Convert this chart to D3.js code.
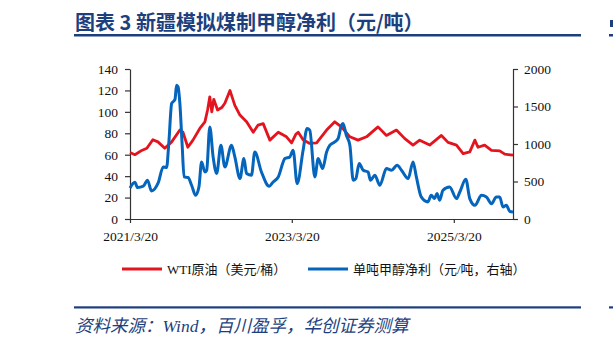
<!DOCTYPE html>
<html>
<head>
<meta charset="utf-8">
<script src="https://cdn.jsdelivr.net/npm/d3@7"></script>
<style>
  html, body { margin: 0; padding: 0; background: #ffffff; }
  svg { display: block; }
</style>
</head>
<body>
<svg id="chart" width="613" height="346"></svg>
<script>
// ---------------- DATA ----------------
const titleText = "图表 3 新疆模拟煤制甲醇净利（元/吨）";
const sourceText = "资料来源：Wind，百川盈孚，华创证券测算";
const seriesNames = ["WTI原油（美元/桶）", "单吨甲醇净利（元/吨，右轴）"];
const xTickLabels = ["2021/3/20", "2023/3/20", "2025/3/20"];
const leftTicks = [0, 20, 40, 60, 80, 100, 120, 140];
const rightTicks = [0, 500, 1000, 1500, 2000];
const xDomain = ["2021-03-20", "2025-12-12"];

const wtiDates = ["2021-03-20","2021-04-11","2021-05-12","2021-06-04","2021-07-01","2021-07-24","2021-08-24","2021-09-24","2021-10-31","2021-11-14","2021-12-06","2021-12-29","2022-01-29","2022-02-21","2022-03-05","2022-03-15","2022-03-24","2022-04-02","2022-04-19","2022-05-08","2022-05-22","2022-06-14","2022-07-06","2022-07-29","2022-08-28","2022-09-27","2022-10-19","2022-11-11","2022-12-11","2023-01-18","2023-02-24","2023-03-19","2023-04-07","2023-04-18","2023-05-10","2023-06-09","2023-07-10","2023-08-24","2023-09-30","2023-10-30","2023-12-07","2024-01-13","2024-02-20","2024-04-12","2024-05-20","2024-07-04","2024-08-11","2024-09-17","2024-10-17","2024-12-01","2025-01-23","2025-02-22","2025-04-01","2025-05-01","2025-05-31","2025-06-23","2025-07-07","2025-08-06","2025-09-06","2025-10-13","2025-11-05","2025-12-12"];
const wtiValues = [62,60,64,66,74,72,66,72,83,81,67,73.6,84.5,90.7,101.7,114,100,111.7,101.7,104,108,120,106,97,90.7,81,87.7,89,73.6,81,76.7,71,79,81,74,70.5,71,83,90.7,86,76.7,73.6,76.7,86,78,83,75,69,73.6,69,78,71.5,69,61,62.7,73.6,67,69,64,63.6,60.5,59.6];

const profitDates = ["2021-03-20","2021-04-11","2021-04-23","2021-05-19","2021-06-07","2021-06-25","2021-07-25","2021-08-17","2021-09-01","2021-09-11","2021-09-24","2021-10-09","2021-10-16","2021-10-23","2021-10-31","2021-11-10","2021-11-19","2021-12-07","2021-12-23","2022-01-10","2022-01-25","2022-02-06","2022-02-21","2022-03-01","2022-03-15","2022-03-30","2022-04-15","2022-05-04","2022-05-22","2022-06-21","2022-07-06","2022-07-29","2022-08-16","2022-08-28","2022-09-19","2022-10-04","2022-11-03","2022-12-08","2022-12-26","2023-01-18","2023-02-17","2023-03-11","2023-03-26","2023-04-13","2023-05-10","2023-05-28","2023-06-09","2023-07-02","2023-07-17","2023-08-06","2023-08-24","2023-09-08","2023-09-30","2023-10-15","2023-10-30","2023-11-06","2023-11-21","2023-12-07","2023-12-22","2024-01-03","2024-01-18","2024-02-05","2024-02-27","2024-03-09","2024-03-29","2024-04-20","2024-05-20","2024-06-12","2024-07-07","2024-07-27","2024-08-26","2024-09-17","2024-10-02","2024-10-24","2024-11-23","2024-12-08","2024-12-23","2025-01-03","2025-01-15","2025-01-30","2025-03-01","2025-04-01","2025-04-16","2025-05-13","2025-05-31","2025-06-23","2025-07-23","2025-08-14","2025-09-06","2025-09-28","2025-10-13","2025-10-28","2025-11-12","2025-11-27","2025-12-12"];
const profitValues = [414,490,419,437,517,374,481,694,686,1007,1541,1594,1785,1762,1541,1007,561,553,450,316,427,761,627,650,1228,828,606,984,694,984,828,539,806,606,583,894,627,437,494,561,806,828,917,472,917,1207,1184,561,806,673,894,984,1028,1073,1251,1274,1117,984,517,539,740,650,627,517,583,450,673,650,717,650,539,761,561,294,227,316,272,339,250,383,427,272,360,530,272,183,316,294,205,294,294,160,183,103,93];

// ---------------- CHART ----------------
const svg = d3.select("#chart");
const parse = d3.timeParse("%Y-%m-%d");
const navy = "#1e3f7e";
const red = "#e3141e";
const blue = "#0564bc";
const cjk = "'Noto Sans CJK SC', sans-serif";
const mixed = "'Liberation Serif', 'Noto Sans CJK SC', serif";

const plot = { left: 130, right: 513, top: 69, bottom: 219 };

const x = d3.scaleTime().domain(xDomain.map(parse)).range([plot.left, plot.right]);
const yL = d3.scaleLinear().domain([0, 140]).range([plot.bottom, plot.top]);
const yR = d3.scaleLinear().domain([0, 2000]).range([plot.bottom, plot.top]);

// Title
svg.append("text").attr("x", 75).attr("y", 30)
  .attr("font-family", cjk).attr("font-weight", 700).attr("font-size", 20)
  .attr("fill", navy).text(titleText);
svg.append("rect").attr("x", 74).attr("y", 34).attr("width", 507).attr("height", 2.5).attr("fill", navy);
svg.append("rect").attr("x", 609).attr("y", 34).attr("width", 4).attr("height", 2.5).attr("fill", navy);
svg.append("rect").attr("x", 610).attr("y", 20).attr("width", 3).attr("height", 7).attr("fill", navy);

// Bottom rule and source
svg.append("rect").attr("x", 74).attr("y", 306.3).attr("width", 507).attr("height", 2.2).attr("fill", navy);
svg.append("rect").attr("x", 609).attr("y", 306.3).attr("width", 4).attr("height", 2.2).attr("fill", navy);
svg.append("text").attr("x", 75).attr("y", 332)
  .attr("font-family", mixed).attr("font-style", "italic").attr("font-size", 17.5)
  .attr("fill", navy).text(sourceText);

// Axes
const axisColor = "#333";
const gL = svg.append("g").attr("transform", `translate(${plot.left},0)`)
  .call(d3.axisLeft(yL).tickValues(leftTicks).tickSize(5).tickPadding(7).tickSizeOuter(0));
const gR = svg.append("g").attr("transform", `translate(${plot.right},0)`)
  .call(d3.axisRight(yR).tickValues(rightTicks).tickFormat(d3.format("d")).tickSize(5).tickPadding(6).tickSizeOuter(0));
const xTickDates = xTickLabels.map(s => d3.timeParse("%Y/%m/%d")(s));
const gB = svg.append("g").attr("transform", `translate(0,${plot.bottom})`)
  .call(d3.axisBottom(x).tickValues(xTickDates).tickFormat((d, i) => xTickLabels[i]).tickSize(4).tickPadding(8).tickSizeOuter(0));

[gL, gR, gB].forEach(g => {
  g.select(".domain").attr("stroke", axisColor).attr("stroke-width", 1.2);
  g.selectAll(".tick line").attr("stroke", axisColor).attr("stroke-width", 1.2);
  g.selectAll(".tick text").attr("font-family", "'Liberation Serif', serif")
    .attr("font-size", 13.5).attr("fill", "#111");
});

// Lines
const wti = wtiDates.map((d, i) => ({ date: parse(d), v: wtiValues[i] }));
const profit = profitDates.map((d, i) => ({ date: parse(d), v: profitValues[i] }));

svg.append("path").datum(wti)
  .attr("fill", "none").attr("stroke", red).attr("stroke-width", 2.8).attr("stroke-linejoin", "round")
  .attr("d", d3.line().x(d => x(d.date)).y(d => yL(d.v)).curve(d3.curveLinear));
svg.append("path").datum(profit)
  .attr("fill", "none").attr("stroke", blue).attr("stroke-width", 3).attr("stroke-linejoin", "round")
  .attr("d", d3.line().x(d => x(d.date)).y(d => yR(d.v)).curve(d3.curveMonotoneX));

// Legend
const legend = [
  { name: seriesNames[0], color: red, x0: 122 },
  { name: seriesNames[1], color: blue, x0: 308 }
];
legend.forEach(l => {
  svg.append("line").attr("x1", l.x0).attr("x2", l.x0 + 40).attr("y1", 269).attr("y2", 269)
    .attr("stroke", l.color).attr("stroke-width", 3);
  svg.append("text").attr("x", l.x0 + 45).attr("y", 273.5)
    .attr("font-family", mixed).attr("font-size", 13).attr("fill", "#111").text(l.name);
});
</script>
</body>
</html>
